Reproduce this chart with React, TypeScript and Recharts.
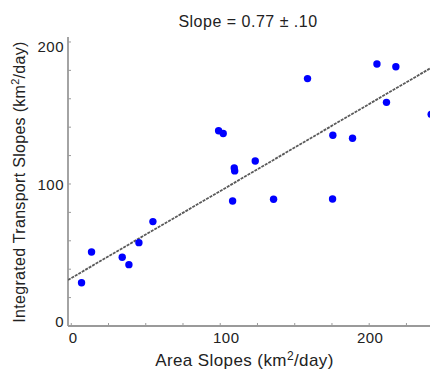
import { ScatterChart, Scatter, XAxis, YAxis } from "recharts";

// values
const areaSlopes = [6.9, 13.6, 34.2, 38.7, 45.4, 54.8, 98.9, 102, 108.3, 109.4, 109.7, 123.5, 135.8, 158.6, 175.6, 175.4, 188.8, 205.2, 211.6, 217.9, 241.6];
const transportSlopes = [30.5, 52.1, 48.4, 43.2, 58.7, 73.5, 137.5, 135.6, 88, 111.3, 109.2, 116.2, 89.2, 174.2, 134.3, 89.4, 132.2, 184.5, 157.5, 182.6, 149.1];

// fitted line end points
const fitX = [-2.2, 243.5];
const fitY = [32.4, 183];

const xTicks = [0, 25, 50, 75, 100, 125, 150, 175, 200, 225];
const yTicks = [0, 20, 40, 60, 80, 100, 120, 140, 160, 180, 200];
const xLabelTicks = [0, 100, 200];
const yLabelTicks = [0, 100, 200];

const title = "Slope = 0.77 ± .10";

const points = areaSlopes.map((x, i) => ({ x, y: transportSlopes[i] }));
const fitLine = fitX.map((x, i) => ({ x, y: fitY[i] }));

const AXIS = "#9a9a9a";
const TEXT = "#222";
const FONT = "'Liberation Sans', Arial, sans-serif";

// small nudges so the labels sit where the original ones do
const xLabelShift: Record<number, number> = { 0: 2, 100: 6, 200: 1 };
const yLabelShift: Record<number, number> = { 0: -4, 100: 1, 200: 5 };

// tick marks point inwards, labels only on the major values
const BottomTick = (props: any) => {
  const { x, y, payload } = props;
  const v = payload.value;
  return (
    <g>
      <line x1={x} x2={x} y1={y} y2={y - 3} stroke={AXIS} />
      {xLabelTicks.includes(v) && (
        <text x={x + (xLabelShift[v] ?? 0)} y={y + 17} textAnchor="middle" fill={TEXT} fontSize={15} fontFamily={FONT} letterSpacing={0.5}>
          {v}
        </text>
      )}
    </g>
  );
};

const TopTick = (props: any) => {
  const { x, y } = props;
  return <line x1={x} x2={x} y1={y} y2={y + 3} stroke={AXIS} />;
};

const LeftTick = (props: any) => {
  const { x, y, payload } = props;
  const v = payload.value;
  return (
    <g>
      <line x1={x} x2={x + 3} y1={y} y2={y} stroke={AXIS} />
      {yLabelTicks.includes(v) && (
        <text x={x - 4} y={y + (yLabelShift[v] ?? 0) + 5} textAnchor="end" fill={TEXT} fontSize={15} fontFamily={FONT} letterSpacing={0.5}>
          {v}
        </text>
      )}
    </g>
  );
};

const RightTick = (props: any) => {
  const { x, y } = props;
  return <line x1={x} x2={x - 5} y1={y} y2={y} stroke={AXIS} />;
};

const Nothing = () => <g />;

export default function App() {
  return (
    <div
      style={{
        position: "fixed",
        left: 0,
        top: 0,
        width: 430,
        height: 370,
        overflow: "hidden",
        background: "#fff",
      }}
    >
      <ScatterChart width={434} height={370} margin={{ top: 37, right: 0, bottom: 0, left: 0 }}>
        <XAxis
          xAxisId="b"
          type="number"
          dataKey="x"
          domain={[-2.2, 243.5]}
          allowDataOverflow
          ticks={xTicks}
          interval={0}
          height={44}
          tickSize={0}
          tickMargin={0}
          tickLine={false}
          axisLine={{ stroke: AXIS, strokeWidth: 1.8 }}
          tick={<BottomTick />}
        />
        <XAxis
          xAxisId="t"
          orientation="top"
          type="number"
          dataKey="x"
          domain={[-2.2, 243.5]}
          allowDataOverflow
          ticks={xTicks}
          interval={0}
          height={0}
          tickSize={0}
          tickMargin={0}
          tickLine={false}
          axisLine={{ stroke: AXIS, strokeWidth: 1.8 }}
          tick={<TopTick />}
        />
        <YAxis
          yAxisId="l"
          type="number"
          dataKey="y"
          domain={[0, 203.5]}
          allowDataOverflow
          ticks={yTicks}
          interval={0}
          width={68}
          tickSize={0}
          tickMargin={0}
          tickLine={false}
          axisLine={{ stroke: AXIS, strokeWidth: 1.8 }}
          tick={<LeftTick />}
        />
        <YAxis
          yAxisId="r"
          orientation="right"
          type="number"
          dataKey="y"
          domain={[0, 203.5]}
          allowDataOverflow
          ticks={yTicks}
          interval={0}
          width={0}
          tickSize={0}
          tickMargin={0}
          tickLine={false}
          axisLine={{ stroke: AXIS, strokeWidth: 1.8 }}
          tick={<RightTick />}
        />
        <Scatter
          xAxisId="b"
          yAxisId="l"
          data={fitLine}
          line={{ stroke: "#5a5a5a", strokeWidth: 1.8, strokeDasharray: "3 1" }}
          shape={<Nothing />}
          isAnimationActive={false}
        />
        <Scatter
          xAxisId="b"
          yAxisId="l"
          data={points}
          fill="#0000ff"
          shape={(p: any) => <circle cx={p.cx} cy={p.cy} r={3.7} fill="#0000ff" />}
          isAnimationActive={false}
        />
      </ScatterChart>

      <svg
        width={430}
        height={370}
        style={{ position: "absolute", left: 0, top: 0, pointerEvents: "none" }}
        fontFamily={FONT}
        fill={TEXT}
      >
        <text x={248} y={26.5} textAnchor="middle" fontSize={16} letterSpacing={0.5}>
          {title}
        </text>
        <text x={244.5} y={366} textAnchor="middle" fontSize={17} letterSpacing={0.4}>
          Area Slopes (km<tspan dy={-6} fontSize={12}>2</tspan>
          <tspan dy={6}>/day)</tspan>
        </text>
        <text transform="translate(25,182) rotate(-90)" textAnchor="middle" fontSize={16} letterSpacing={0.3}>
          Integrated Transport Slopes (km<tspan dy={-6} fontSize={11}>2</tspan>
          <tspan dy={6}>/day)</tspan>
        </text>
      </svg>
    </div>
  );
}
